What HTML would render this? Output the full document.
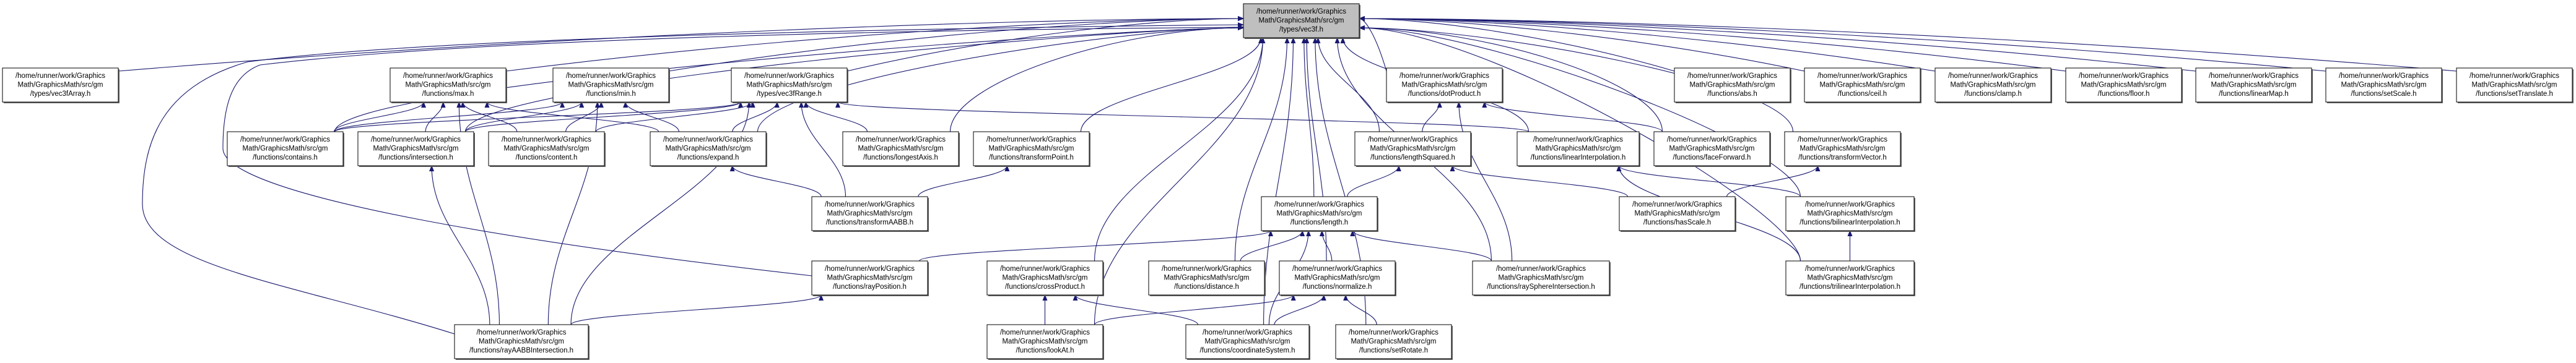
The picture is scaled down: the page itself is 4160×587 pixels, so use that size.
<!DOCTYPE html>
<html><head><meta charset="utf-8"><style>
html,body{margin:0;padding:0;background:#fff;}
svg{display:block;}
text{font-family:"Liberation Sans",sans-serif;font-size:11.5px;fill:#000;}
</style></head><body>
<svg id="g" width="4160" height="587" viewBox="0 0 4160 587" xmlns="http://www.w3.org/2000/svg">
<defs><marker id="a" markerWidth="10" markerHeight="8" refX="9" refY="4" orient="auto" markerUnits="userSpaceOnUse"><path d="M0,0 L10,4 L0,8 z" fill="#191970"/></marker></defs>
<g id="edges" fill="none" stroke="#191970" stroke-width="1.1">
<path d="M734,540 C480,460 230,430 230,330 C230,230 260,140 400,100 C700,60 1500,45 2008,40" marker-end="url(#a)"/>
<path d="M1311,446 C900,400 360,320 360,240 C360,160 380,120 420,105 C800,60 1500,48 2008,44" marker-end="url(#a)"/>
</g>
<g id="nodes"></g>
</svg>
<script>
var R=[6,110,213,318,422,525];
var N={
v:[2008,0,'types/vec3f.h',1],
arr:[4,1,'types/vec3fArray.h'],max:[630,1,'functions/max.h'],min:[893,1,'functions/min.h'],rng:[1181,1,'types/vec3fRange.h'],
dot:[2239,1,'functions/dotProduct.h'],abs:[2704,1,'functions/abs.h'],ceil:[2914,1,'functions/ceil.h'],clamp:[3125,1,'functions/clamp.h'],
floor:[3336,1,'functions/floor.h'],lmap:[3546,1,'functions/linearMap.h'],ssc:[3756,1,'functions/setScale.h'],str:[3967,1,'functions/setTranslate.h'],
con:[367,2,'functions/contains.h'],int:[578,2,'functions/intersection.h'],cnt:[789,2,'functions/content.h'],exp:[1050,2,'functions/expand.h'],
lax:[1361,2,'functions/longestAxis.h'],tp:[1572,2,'functions/transformPoint.h'],lsq:[2188,2,'functions/lengthSquared.h'],
li:[2450,2,'functions/linearInterpolation.h',0,197],ff:[2671,2,'functions/faceForward.h'],tv:[2882,2,'functions/transformVector.h'],
taabb:[1311,3,'functions/transformAABB.h'],len:[2037,3,'functions/length.h'],hs:[2615,3,'functions/hasScale.h'],bi:[2884,3,'functions/bilinearInterpolation.h',0,207],
rp:[1311,4,'functions/rayPosition.h'],cp:[1594,4,'functions/crossProduct.h'],dist:[1855,4,'functions/distance.h'],nrm:[2066,4,'functions/normalize.h'],
rs:[2378,4,'functions/raySphereIntersection.h',0,221],tri:[2884,4,'functions/trilinearInterpolation.h',0,207],
rab:[734,5,'functions/rayAABBIntersection.h',0,216],la:[1594,5,'functions/lookAt.h'],cs:[1915,5,'functions/coordinateSystem.h',0,199],sr:[2157,5,'functions/setRotate.h']
};
function B(k){var n=N[k];var w=n[4]||187;return {x1:n[0],x2:n[0]+w,y1:R[n[1]],y2:R[n[1]]+55,cx:n[0]+w/2,r:n[1]};}
var E=[];
['arr','max','min','rng','dot','abs','ceil','clamp','floor','lmap','ssc','str','con','exp','lax','tp','lsq','li','ff','tv','len','bi','cp','dist','nrm','rs','tri','la','cs','sr','int'].forEach(function(k){E.push([k,'v']);});
[['con','max'],['int','max'],['cnt','max'],['exp','max'],['rab','max'],
['con','min'],['int','min'],['cnt','min'],['exp','min'],['rab','min'],
['con','rng'],['int','rng'],['cnt','rng'],['exp','rng'],['lax','rng'],['taabb','rng'],['rab','rng'],['li','rng'],
['rab','int'],['taabb','exp'],['taabb','tp'],['rab','rp'],
['lsq','dot'],['rs','dot'],['ff','dot'],['len','lsq'],['hs','lsq'],['bi','li'],['tri','li'],['hs','tv'],['tri','bi'],
['rp','len'],['dist','len'],['nrm','len'],['rs','len'],['cs','len'],['la','cp'],['cs','cp'],['la','nrm'],['cs','nrm'],['sr','nrm']].forEach(function(e){E.push(e);});
var eg=document.getElementById('edges'),ng=document.getElementById('nodes'),NS='http://www.w3.org/2000/svg';
E.forEach(function(e){
 var s=B(e[0]),t=B(e[1]),d;
 var sx,sy,tx,ty;
 if(t.r==0&&s.r==1){
  if(s.cx<t.cx){sx=s.x2;sy=s.y1+5;tx=t.x1;ty=30;}else{sx=s.x1;sy=s.y1+5;tx=t.x2;ty=30;}
  d='M'+sx+','+sy+' C'+(sx+(tx-sx)*0.4)+','+(sy-60)+' '+(tx-(tx-sx)*0.2)+','+ty+' '+tx+','+ty;
 } else if(s.r==t.r){
  sx=s.cx;sy=s.y1;tx=t.cx;ty=t.y1;
  d='M'+sx+','+sy+' C'+sx+','+(sy-40)+' '+tx+','+(ty-40)+' '+tx+','+ty;
 } else {
  var dx=t.cx-s.cx;
  sx=s.cx+Math.max(-80,Math.min(80,dx*0.3));sy=s.y1;
  tx=Math.max(t.x1+15,Math.min(t.x2-15,t.cx+(s.cx-t.cx)*0.15));ty=t.y2;
  if(t.r==0&&Math.abs(dx)>600){tx=(dx>0)?t.x1:t.x2;ty=45;
   d='M'+sx+','+sy+' C'+sx+','+(sy-80)+' '+(tx+(dx>0?-200:200))+','+ty+' '+tx+','+ty;}
  else{var dy=sy-ty;d='M'+sx+','+sy+' C'+sx+','+(sy-dy*0.4)+' '+tx+','+(ty+dy*0.4)+' '+tx+','+ty;}
 }
 var p=document.createElementNS(NS,'path');p.setAttribute('d',d);p.setAttribute('marker-end','url(#a)');eg.appendChild(p);
});
Object.keys(N).forEach(function(k){
 var b=B(k),n=N[k],w=b.x2-b.x1;
 var r=document.createElementNS(NS,'rect');r.setAttribute('x',b.x1+2);r.setAttribute('y',b.y1+2);r.setAttribute('width',w);r.setAttribute('height',55);r.setAttribute('fill','#666');ng.appendChild(r);
 r=document.createElementNS(NS,'rect');r.setAttribute('x',b.x1);r.setAttribute('y',b.y1);r.setAttribute('width',w);r.setAttribute('height',55);r.setAttribute('fill',n[3]?'#bfbfbf':'#fff');r.setAttribute('stroke','#000');r.setAttribute('stroke-width','1');ng.appendChild(r);
 ['/home/runner/work/Graphics','Math/GraphicsMath/src/gm','/'+n[2]].forEach(function(l,i){
  var t=document.createElementNS(NS,'text');t.setAttribute('x',b.cx);t.setAttribute('y',b.y1+16+i*14.5);t.setAttribute('text-anchor','middle');t.textContent=l;ng.appendChild(t);
 });
});
</script>
</body></html>
